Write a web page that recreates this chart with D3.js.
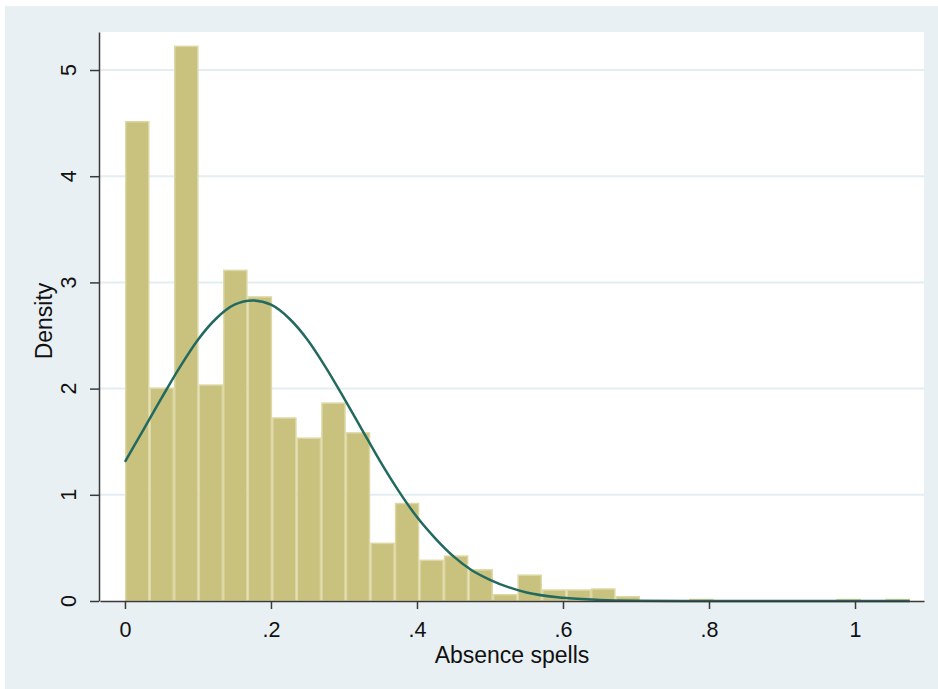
<!DOCTYPE html>
<html>
<head>
<meta charset="utf-8">
<script src="https://cdn.jsdelivr.net/npm/d3@7"></script>
<style>
  html, body { margin: 0; padding: 0; background: #ffffff; }
  svg { display: block; font-family: Arial, "Liberation Sans", sans-serif; }
</style>
</head>
<body>
<div id="chart"></div>
<script>
// histogram bins (start at 0, equal width) and their densities
const binWidth = 0.0336;
const densities = [4.52, 2.01, 5.23, 2.04, 3.12, 2.87, 1.73, 1.54, 1.87, 1.59,
    0.55, 0.925, 0.39, 0.43, 0.30, 0.066, 0.25, 0.11, 0.11, 0.12,
    0.047, 0, 0, 0.02, 0, 0, 0, 0, 0, 0.02, 0, 0.02];

// normal density overlay
const curveX = [0, 0.025, 0.05, 0.075, 0.1, 0.125, 0.15, 0.175, 0.2, 0.225, 0.25, 0.275, 0.3,
    0.325, 0.35, 0.375, 0.4, 0.425, 0.45, 0.475, 0.5, 0.55, 0.6, 0.65, 0.7, 0.8, 0.9, 1.0, 1.075];
const curveY = [1.31, 1.61, 1.91, 2.20, 2.46, 2.66, 2.79, 2.83, 2.79, 2.66, 2.46, 2.20, 1.91,
    1.61, 1.31, 1.035, 0.79, 0.59, 0.42, 0.29, 0.20, 0.08, 0.03, 0.01, 0.003, 0, 0, 0, 0];

const xTicks = [0, 0.2, 0.4, 0.6, 0.8, 1];
const xTickLabels = ["0", ".2", ".4", ".6", ".8", "1"];
const yTicks = [0, 1, 2, 3, 4, 5];

const width = 938, height = 689;
const plot = {left: 100, right: 924, top: 32, bottom: 601};

const svg = d3.select("#chart").append("svg")
    .attr("width", width)
    .attr("height", height);

// outer background
svg.append("rect")
    .attr("x", 5).attr("y", 6)
    .attr("width", width - 5).attr("height", height - 6)
    .attr("fill", "#e8f0f3");

svg.append("rect")
    .attr("x", plot.left).attr("y", plot.top)
    .attr("width", plot.right - plot.left).attr("height", plot.bottom - plot.top)
    .attr("fill", "#ffffff");

const x = d3.scaleLinear().domain([-0.0342, 1.0945]).range([plot.left, plot.right]);
const y = d3.scaleLinear().domain([0, 5.358]).range([plot.bottom, plot.top]);

// grid lines
svg.append("g")
    .selectAll("line")
    .data(yTicks.filter(d => d > 0))
    .join("line")
    .attr("x1", plot.left).attr("x2", plot.right)
    .attr("y1", d => y(d)).attr("y2", d => y(d))
    .attr("stroke", "#e4eef2")
    .attr("stroke-width", 2);

// bars
svg.append("g")
    .selectAll("rect")
    .data(densities.map((d, i) => ({x0: i * binWidth, x1: (i + 1) * binWidth, d})).filter(b => b.d > 0))
    .join("rect")
    .attr("x", b => x(b.x0) + 0.75)
    .attr("width", b => x(b.x1) - x(b.x0) - 1.5)
    .attr("y", b => Math.min(y(b.d) + 0.75, plot.bottom - 1.5))
    .attr("height", b => Math.max(plot.bottom - y(b.d) - 0.75, 1.5))
    .attr("fill", "#c9c17e")
    .attr("stroke", "#dcd7a3")
    .attr("stroke-width", 1.5);

// normal curve
const line = d3.line()
    .x((d, i) => x(curveX[i]))
    .y(d => y(d))
    .curve(d3.curveMonotoneX);

svg.append("path")
    .datum(curveY)
    .attr("d", line)
    .attr("fill", "none")
    .attr("stroke", "#226a60")
    .attr("stroke-width", 2.5);

// x axis
const xAxis = svg.append("g")
    .attr("transform", `translate(0,${plot.bottom})`)
    .call(d3.axisBottom(x).tickValues(xTicks).tickSize(8).tickSizeOuter(0)
        .tickFormat((d, i) => xTickLabels[i]));
xAxis.select(".domain").attr("stroke", "#3a3a3a").attr("stroke-width", 1.5);
xAxis.selectAll(".tick line").attr("stroke", "#3a3a3a").attr("stroke-width", 1.5);
xAxis.selectAll(".tick text")
    .attr("y", 36).attr("dy", 0)
    .attr("font-size", 21.5)
    .attr("font-family", "Arial, 'Liberation Sans', sans-serif")
    .attr("fill", "#111");

// y axis
const yAxis = svg.append("g")
    .attr("transform", `translate(${plot.left - 1},0)`)
    .call(d3.axisLeft(y).tickValues(yTicks).tickSize(9).tickSizeOuter(0).tickFormat(""));
yAxis.select(".domain").attr("stroke", "#3a3a3a").attr("stroke-width", 1.5);
yAxis.selectAll(".tick line").attr("stroke", "#3a3a3a").attr("stroke-width", 1.5);

svg.append("g")
    .selectAll("text")
    .data(yTicks)
    .join("text")
    .attr("transform", d => `translate(76,${y(d)}) rotate(-90)`)
    .attr("text-anchor", "middle")
    .attr("font-size", 21.5)
    .attr("fill", "#111")
    .text(d => d);

// axis titles
svg.append("text")
    .attr("x", (plot.left + plot.right) / 2)
    .attr("y", 663)
    .attr("text-anchor", "middle")
    .attr("font-size", 23)
    .attr("fill", "#111")
    .text("Absence spells");

svg.append("text")
    .attr("transform", `translate(52,321) rotate(-90)`)
    .attr("text-anchor", "middle")
    .attr("font-size", 23)
    .attr("fill", "#111")
    .text("Density");
</script>
</body>
</html>
